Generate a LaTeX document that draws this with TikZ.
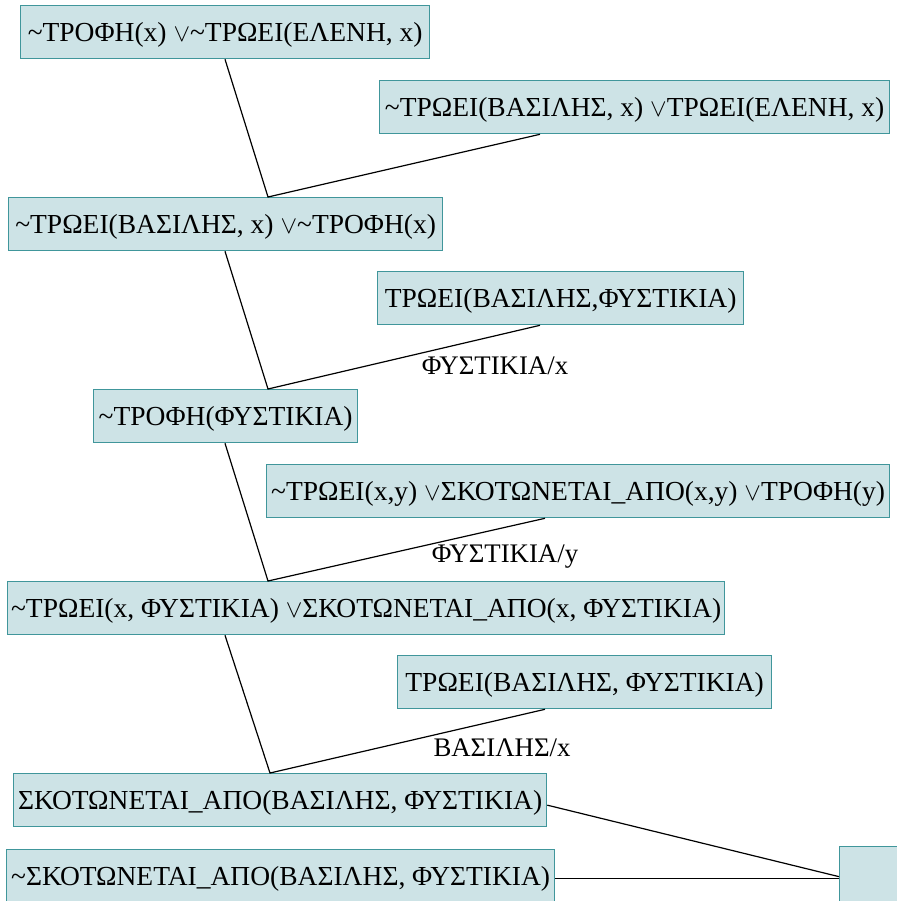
\documentclass[tikz,border=0pt]{standalone}
\usepackage{fontspec}
\setmainfont{Liberation Serif}
\definecolor{boxfill}{RGB}{205,227,230}
\definecolor{boxline}{RGB}{64,150,155}
\newcommand{\tld}{\textasciitilde}
\newcommand{\orr}{\ensuremath{\vee}}
\begin{document}
\begin{tikzpicture}[x=1pt,y=-1pt,
  clause/.style={draw=boxline, fill=boxfill, line width=1.3pt, anchor=north west,
    inner sep=0pt, minimum height=53pt, text height=18.2pt, text depth=0pt,
    font=\fontsize{27.5}{32}\selectfont},
  subst/.style={font=\fontsize{26.8}{31}\selectfont, inner sep=0pt},
  link/.style={line width=1.2pt, black}]
\useasboundingbox (0,0) rectangle (896,901);

% clauses of the resolution tree
\node[clause, minimum width=409pt] (c1) at (20,5) {\tld ΤΡΟΦΗ(x) \orr\tld ΤΡΩΕΙ(ΕΛΕΝΗ, x)};
\node[clause, minimum width=510pt] (c2) at (379,80) {\tld ΤΡΩΕΙ(ΒΑΣΙΛΗΣ, x) \orr ΤΡΩΕΙ(ΕΛΕΝΗ, x)};
\node[clause, minimum width=434pt] (c3) at (8,197) {\tld ΤΡΩΕΙ(ΒΑΣΙΛΗΣ, x) \orr\tld ΤΡΟΦΗ(x)};
\node[clause, minimum width=366pt] (c4) at (377,271) {ΤΡΩΕΙ(ΒΑΣΙΛΗΣ,ΦΥΣΤΙΚΙΑ)};
\node[clause, minimum width=264pt] (c5) at (93,389) {\tld ΤΡΟΦΗ(ΦΥΣΤΙΚΙΑ)};
\node[clause, minimum width=623pt] (c6) at (266,464) {\tld ΤΡΩΕΙ(x,y) \orr ΣΚΟΤΩΝΕΤΑΙ\_ΑΠΟ(x,y) \orr ΤΡΟΦΗ(y)};
\node[clause, minimum width=717pt] (c7) at (7,581) {\tld ΤΡΩΕΙ(x, ΦΥΣΤΙΚΙΑ) \orr ΣΚΟΤΩΝΕΤΑΙ\_ΑΠΟ(x, ΦΥΣΤΙΚΙΑ)};
\node[clause, minimum width=374pt] (c8) at (397,655) {ΤΡΩΕΙ(ΒΑΣΙΛΗΣ, ΦΥΣΤΙΚΙΑ)};
\node[clause, minimum width=533pt] (c9) at (13,773) {ΣΚΟΤΩΝΕΤΑΙ\_ΑΠΟ(ΒΑΣΙΛΗΣ, ΦΥΣΤΙΚΙΑ)};
\node[clause, minimum width=548pt] (c10) at (6,849) {\tld ΣΚΟΤΩΝΕΤΑΙ\_ΑΠΟ(ΒΑΣΙΛΗΣ, ΦΥΣΤΙΚΙΑ)};
\node[clause, minimum width=60pt, minimum height=56pt] (c11) at (839,846) {};

% substitutions
\node[subst] (s1) at (495,366) {ΦΥΣΤΙΚΙΑ/x};
\node[subst] (s2) at (505,557) {ΦΥΣΤΙΚΙΑ/y};
\node[subst] (s3) at (502,748) {ΒΑΣΙΛΗΣ/x};

% resolution steps
\draw[link] ([xshift=205pt]c1.south west) -- ([xshift=260pt]c3.north west)
            -- ([xshift=161pt]c2.south west);
\draw[link] ([xshift=217pt]c3.south west) -- ([xshift=175pt]c5.north west)
            -- ([xshift=163pt]c4.south west);
\draw[link] ([xshift=132pt]c5.south west) -- ([xshift=261pt]c7.north west)
            -- ([xshift=279pt]c6.south west);
\draw[link] ([xshift=218pt]c7.south west) -- ([xshift=257pt]c9.north west)
            -- ([xshift=148pt]c8.south west);
\draw[link] ([yshift=-5pt]c9.east) -- ([yshift=-2pt]c11.west);
\draw[link] ([yshift=-2pt]c10.east) coordinate (e10) -- (e10 -| c11.west);
\end{tikzpicture}
\end{document}
